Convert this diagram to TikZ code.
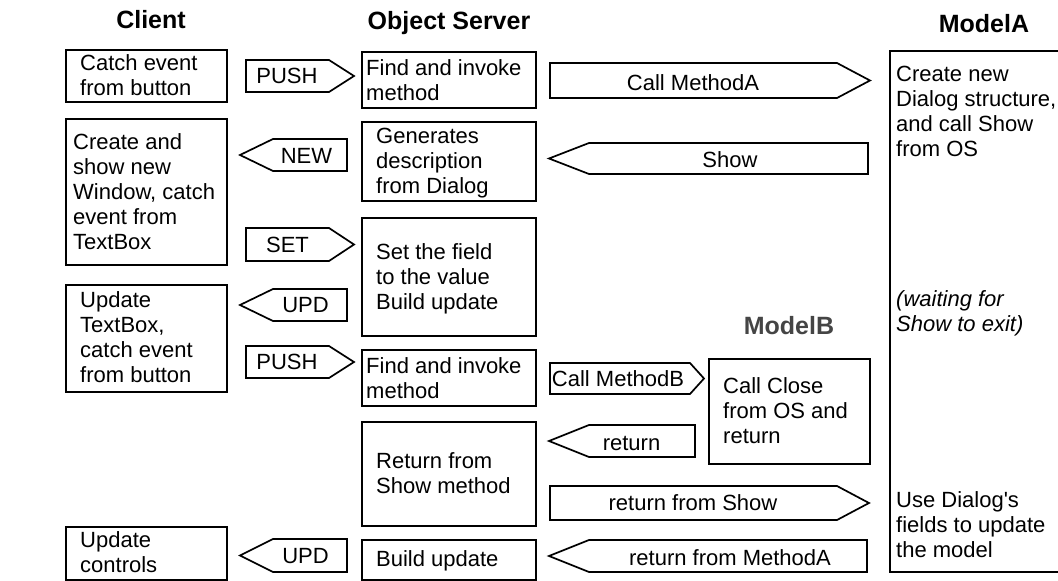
\documentclass[tikz,border=0pt]{standalone}
\usepackage{fontspec}
\setmainfont{Liberation Sans}
\begin{document}
\begin{tikzpicture}[x=1pt,y=-1pt,
  box/.style={draw, line width=1.7pt, inner sep=0pt, anchor=north west},
  arrowbox/.style={draw, line width=1.7pt, line join=miter},
  txt/.style={anchor=base west, inner sep=0pt, align=left, font=\fontsize{22}{25}\selectfont},
  lbl/.style={anchor=base, inner sep=0pt, font=\fontsize{22}{25}\selectfont},
  ttl/.style={anchor=base, inner sep=0pt, font=\fontsize{25}{28}\selectfont\bfseries}]
\useasboundingbox (0,0) rectangle (1058,581);

% titles
\node[ttl] (tclient) at (151,28) {Client};
\node[ttl] (tserver) at (449,29) {Object Server};
\node[ttl] (tmodela) at (984,32) {ModelA};
\node[ttl, text=black!73] (tmodelb) at (789,334) {ModelB};

% client boxes (text nodes placed by the baseline of their last line)
\node[box, minimum width=161pt, minimum height=52pt] (c1) at (65,49) {};
\node[box, minimum width=161pt, minimum height=146pt] (c2) at (65,118) {};
\node[box, minimum width=161pt, minimum height=107pt] (c3) at (65,284) {};
\node[box, minimum width=161pt, minimum height=53pt] (c4) at (65,526) {};
\node[txt] (c1t) at (80,95.7) {Catch event\\from button};
\node[txt] (c2t) at (73,249) {Create and\\show new\\Window, catch\\event from\\TextBox};
\node[txt] (c3t) at (80,382) {Update\\TextBox,\\catch event\\from button};
\node[txt] (c4t) at (80,572) {Update\\controls};

% server boxes
\node[box, minimum width=174pt, minimum height=56pt] (s1) at (361,51) {};
\node[box, minimum width=174pt, minimum height=79pt] (s2) at (361,121) {};
\node[box, minimum width=174pt, minimum height=118pt] (s3) at (361,217) {};
\node[box, minimum width=174pt, minimum height=56pt] (s4) at (361,349) {};
\node[box, minimum width=174pt, minimum height=104pt] (s5) at (361,421) {};
\node[box, minimum width=174pt, minimum height=40pt] (s6) at (361,539) {};
\node[txt] (s1t) at (366,100) {Find and invoke\\method};
\node[txt] (s2t) at (376,193) {Generates\\description\\from Dialog};
\node[txt] (s3t) at (376,309) {Set the field\\to the value\\Build update};
\node[txt] (s4t) at (366,398) {Find and invoke\\method};
\node[txt] (s5t) at (376,493) {Return from\\Show method};
\node[txt] (s6t) at (376,566) {Build update};

% ModelB box
\node[box, minimum width=161pt, minimum height=105pt] (mb) at (708,358) {};
\node[txt] (mbt) at (723,443) {Call Close\\from OS and\\return};

% ModelA box (open to the right edge)
\coordinate (maTR) at (1062,51);
\coordinate (maBR) at (1062,572);
\draw[line width=1.7pt] (maTR) -- (890,51) coordinate (maTL) -- (890,572) coordinate (maBL) -- (maBR);
\node[txt] (mat1) at (896,156) {Create new\\Dialog structure,\\and call Show\\from OS};
\node[txt, font=\fontsize{22}{25}\selectfont\itshape] (mat2) at (896,331) {(waiting for\\Show to exit)};
\node[txt] (mat3) at (896,557) {Use Dialog\textquotesingle s\\fields to update\\the model};

% client <-> server arrows
\draw[arrowbox] (246,60) -- (329,60) -- (354,76) -- (329,92) -- (246,92) -- cycle;
\node[lbl] (push1) at (287,83) {PUSH};
\draw[arrowbox] (240,155) -- (273,139) -- (347,139) -- (347,171) -- (273,171) -- cycle;
\node[lbl] (new) at (306.5,163) {NEW};
\draw[arrowbox] (246,228) -- (329,228) -- (354,244.5) -- (329,261) -- (246,261) -- cycle;
\node[lbl] (set) at (287.5,252) {SET};
\draw[arrowbox] (240,305) -- (273,289) -- (347,289) -- (347,321) -- (273,321) -- cycle;
\node[lbl] (upd1) at (305.5,312) {UPD};
\draw[arrowbox] (246,346) -- (329,346) -- (354,362) -- (329,378) -- (246,378) -- cycle;
\node[lbl] (push2) at (287,369) {PUSH};
\draw[arrowbox] (240,555.5) -- (273,539) -- (347,539) -- (347,572) -- (273,572) -- cycle;
\node[lbl] (upd2) at (305.5,563) {UPD};

% server <-> model arrows
\draw[arrowbox] (550,63) -- (837,63) -- (870,80.5) -- (837,98) -- (550,98) -- cycle;
\node[lbl] (cma) at (693,90) {Call MethodA};
\draw[arrowbox] (549,158.5) -- (589,143) -- (868,143) -- (868,174) -- (589,174) -- cycle;
\node[lbl] (show) at (730,167) {Show};
\draw[arrowbox] (550,363) -- (690,363) -- (704,378.5) -- (690,394) -- (550,394) -- cycle;
\node[lbl] (cmb) at (618,386) {Call MethodB};
\draw[arrowbox] (549,441) -- (589,425) -- (695,425) -- (695,457) -- (589,457) -- cycle;
\node[lbl] (ret) at (631.5,450) {return};
\draw[arrowbox] (550,486) -- (837,486) -- (869,503) -- (837,520) -- (550,520) -- cycle;
\node[lbl] (rfs) at (693,510) {return from Show};
\draw[arrowbox] (549,556) -- (589,540) -- (867,540) -- (867,572) -- (589,572) -- cycle;
\node[lbl] (rfma) at (730,565) {return from MethodA};
\end{tikzpicture}
\end{document}
